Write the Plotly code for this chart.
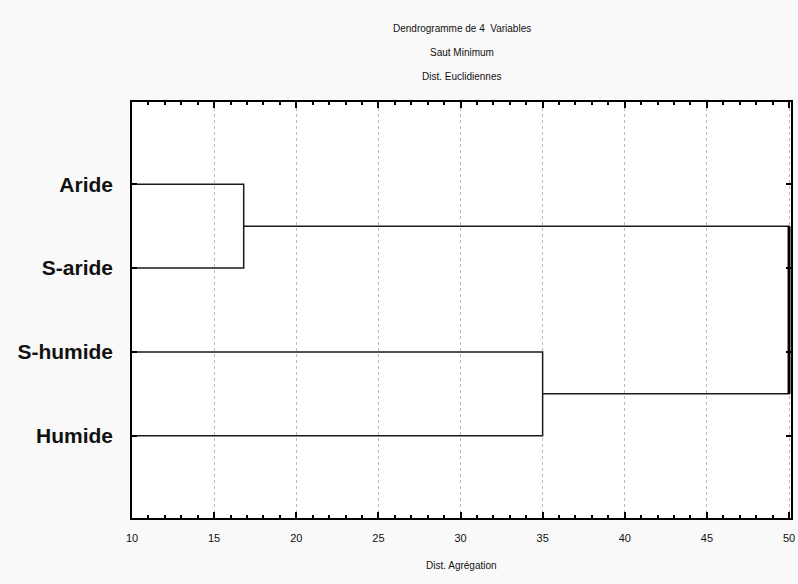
import plotly.graph_objects as go

# Data
leaves = ["Aride", "S-aride", "S-humide", "Humide"]
leaf_pos = [1, 2, 3, 4]
merge_heights = [16.8, 35.0, 50.0]
x_ticks = [10, 15, 20, 25, 30, 35, 40, 45, 50]
x_min = 10

line_col = "#1a1a1a"
fig = go.Figure()

h1, h2, h3 = merge_heights
p = leaf_pos
fig.add_trace(go.Scatter(x=[x_min, h1, h1, x_min], y=[p[0], p[0], p[1], p[1]],
                         mode="lines", line=dict(color=line_col, width=1.5),
                         hoverinfo="skip", showlegend=False, cliponaxis=False))
fig.add_trace(go.Scatter(x=[x_min, h2, h2, x_min], y=[p[2], p[2], p[3], p[3]],
                         mode="lines", line=dict(color=line_col, width=1.5),
                         hoverinfo="skip", showlegend=False, cliponaxis=False))
m1 = (p[0] + p[1]) / 2
m2 = (p[2] + p[3]) / 2
fig.add_trace(go.Scatter(x=[h1, h3, h3, h2], y=[m1, m1, m2, m2],
                         mode="lines", line=dict(color=line_col, width=1.5),
                         hoverinfo="skip", showlegend=False, cliponaxis=False))
fig.add_trace(go.Scatter(x=[h3, h3], y=[m1, m2],
                         mode="lines", line=dict(color="#000", width=3),
                         hoverinfo="skip", showlegend=False, cliponaxis=False))

title_font = dict(family="Liberation Sans, Arial", size=10, color="#111111")
fig.update_layout(
    width=798, height=584,
    margin=dict(l=132, r=7, t=102, b=66),
    paper_bgcolor="#f9f9f9",
    plot_bgcolor="#ffffff",
    showlegend=False,
    annotations=[
        dict(text="Dendrogramme de 4  Variables", xref="paper", yref="paper",
             x=0.5, y=1, yshift=74, showarrow=False, font=title_font, yanchor="middle"),
        dict(text="Saut Minimum", xref="paper", yref="paper",
             x=0.5, y=1, yshift=50, showarrow=False, font=title_font, yanchor="middle"),
        dict(text="Dist. Euclidiennes", xref="paper", yref="paper",
             x=0.5, y=1, yshift=26, showarrow=False, font=title_font, yanchor="middle"),
        dict(text="Dist. Agrégation", xref="paper", yref="paper",
             x=0.5, y=0, yshift=-47, showarrow=False, font=title_font, yanchor="middle"),
    ],
    xaxis=dict(
        range=[10, 50.12], tickvals=x_ticks, ticktext=[str(v) for v in x_ticks],
        ticks="inside", ticklen=6, tickwidth=1.5, tickcolor="#000",
        minor=dict(dtick=1, ticks="inside", ticklen=3, tickcolor="#000", showgrid=False),
        showline=True, linecolor="#000", linewidth=1.5, mirror="ticks",
        showgrid=True, gridcolor="#bbbbbb", griddash="dot", gridwidth=1,
        zeroline=False, automargin=False, ticklabelstandoff=9,
        tickfont=dict(family="Liberation Sans, Arial", size=11, color="#111"),
    ),
    yaxis=dict(
        range=[4.98, 0.02], tickvals=leaf_pos,
        ticktext=["<b>%s</b>" % s for s in leaves],
        ticks="inside", ticklen=5, tickwidth=1.5, tickcolor="#000",
        showline=True, linecolor="#000", linewidth=1.5, mirror="ticks",
        showgrid=False, zeroline=False, ticklabelstandoff=13, automargin=False,
        tickfont=dict(family="Liberation Sans, Arial", size=21, color="#111"),
    ),
)

fig.write_html("out.html", post_script="document.body.style.margin='0';",
               config={"displayModeBar": False})
